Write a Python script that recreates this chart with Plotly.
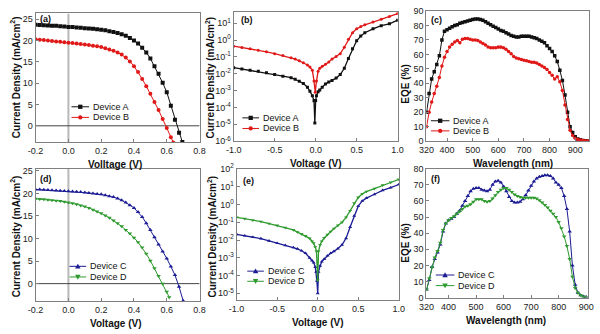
import plotly.graph_objects as go

# ---------------- data ----------------
# (a) J-V under illumination
va_A = [-0.2,-0.175,-0.15,-0.125,-0.1,-0.075,-0.05,-0.025,0,0.025,0.05,0.075,0.1,0.125,0.15,0.175,0.2,0.225,0.25,0.275,0.3,0.325,0.35,0.375,0.4,0.425,0.45,0.475,0.5,0.525,0.55,0.575,0.6,0.625,0.65,0.675,0.695]
ja_A = [23.7,23.65,23.6,23.55,23.5,23.45,23.35,23.3,23.2,23.15,23.05,23.0,22.9,22.85,22.75,22.65,22.55,22.4,22.2,22.0,21.8,21.5,21.1,20.6,20.0,19.3,18.3,17.2,15.8,14.0,12.2,10.1,7.9,4.7,1.4,-1.6,-3.8]
va_B = [-0.2,-0.175,-0.15,-0.125,-0.1,-0.075,-0.05,-0.025,0,0.025,0.05,0.075,0.1,0.125,0.15,0.175,0.2,0.225,0.25,0.275,0.3,0.325,0.35,0.375,0.4,0.425,0.45,0.475,0.5,0.525,0.55,0.575,0.6,0.625,0.64]
ja_B = [20.3,20.2,20.1,20.0,19.9,19.8,19.7,19.6,19.5,19.4,19.3,19.2,19.1,18.95,18.8,18.65,18.5,18.2,17.9,17.6,17.2,16.7,16.0,15.1,14.0,12.6,11.0,9.3,7.5,5.6,3.7,1.6,-0.5,-2.7,-3.9]

# (b) dark J-V (log)
vb_A = [-1.0,-0.9,-0.8,-0.7,-0.6,-0.5,-0.4,-0.3,-0.25,-0.2,-0.15,-0.1,-0.07,-0.04,-0.02,-0.01,0.0,0.01,0.03,0.05,0.08,0.12,0.16,0.2,0.25,0.3,0.35,0.4,0.45,0.5,0.55,0.6,0.7,0.8,0.9,1.0]
jb_A = [2.3e-2,1.9e-2,1.6e-2,1.4e-2,1.15e-2,9.0e-3,7.2e-3,5.8e-3,4.7e-3,3.6e-3,2.6e-3,1.6e-3,9.0e-4,5.0e-4,2.5e-4,1.2e-5,2.6e-4,5.0e-4,8.5e-4,1.1e-3,1.6e-3,2.5e-3,3.2e-3,4.0e-3,5.5e-3,9.0e-3,2.1e-2,8.0e-2,3.0e-1,9.0e-1,1.7,2.7,4.6,7.1,9.1,15.0]
vb_B = [-1.0,-0.9,-0.8,-0.7,-0.6,-0.5,-0.4,-0.3,-0.25,-0.2,-0.15,-0.1,-0.07,-0.04,-0.02,-0.005,0.01,0.03,0.05,0.08,0.12,0.16,0.2,0.25,0.3,0.35,0.4,0.45,0.5,0.55,0.6,0.7,0.8,0.9,1.0]
jb_B = [4.3e-1,3.6e-1,3.0e-1,2.5e-1,2.0e-1,1.55e-1,1.2e-1,9.0e-2,7.4e-2,5.8e-2,4.5e-2,3.3e-2,2.5e-2,1.6e-2,3.7e-3,8.0e-4,3.7e-3,1.4e-2,2.1e-2,2.8e-2,3.6e-2,4.9e-2,7.4e-2,1.05e-1,1.55e-1,3.7e-1,1.1,2.7,4.6,6.3,8.0,11.5,17.0,25.0,37.0]

# (c) EQE
wl_c = [320,330,340,350,360,370,380,390,400,410,420,430,440,450,460,470,480,490,500,510,520,530,540,550,560,570,580,590,600,610,620,630,640,650,660,670,680,690,700,710,720,730,740,750,760,770,780,790,800,810,820,830,840,850,860,870,880,890,900,910,920,930,940,950]
eqe_A = [20,33,43,48,53,59,70,76,77,78,79,80,80.5,81.5,82,82.5,83,83.5,84,84.5,84.5,84,83.5,82.5,81.5,80.5,79.5,78.5,77.5,76.5,76,75,74,73,72.5,72,72,72.5,72.5,72.5,72.5,72,71.5,71,70,69,68,66,64,62,59,55,49,42,32,20,10,6,3,1.5,1,0.5,0.3,0.2]
eqe_B = [10,20,27,33,38,44,52,58,62,65,67,68.5,69.5,68,70.5,71,71,70.5,70,70,69.5,68.5,67.5,66.5,65,64.5,64.5,64.5,65,65,64.5,63.5,62,60.5,58.5,57.5,57,56.5,56,55.5,55,54.5,54.5,54,53,52,51,49.5,47.5,45.5,43,44.5,41,35,25,15,7.5,4,2,1.2,0.8,0.5,0.3,0.2]

# (d) J-V under illumination
vd_C = [-0.2,-0.175,-0.15,-0.125,-0.1,-0.075,-0.05,-0.025,0,0.025,0.05,0.075,0.1,0.125,0.15,0.175,0.2,0.225,0.25,0.275,0.3,0.325,0.35,0.375,0.4,0.425,0.45,0.475,0.5,0.525,0.55,0.575,0.6,0.625,0.65,0.675,0.7]
jd_C = [20.9,20.85,20.8,20.75,20.7,20.65,20.6,20.55,20.5,20.45,20.4,20.3,20.2,20.1,20.0,19.9,19.8,19.6,19.4,19.2,18.9,18.5,18.0,17.4,16.8,15.9,14.8,13.4,11.9,10.3,8.7,7.1,5.6,3.8,1.9,-0.7,-3.8]
vd_D = [-0.2,-0.175,-0.15,-0.125,-0.1,-0.075,-0.05,-0.025,0,0.025,0.05,0.075,0.1,0.125,0.15,0.175,0.2,0.225,0.25,0.275,0.3,0.325,0.35,0.375,0.4,0.425,0.45,0.475,0.5,0.525,0.55,0.575,0.6,0.615]
jd_D = [18.8,18.75,18.7,18.6,18.5,18.4,18.3,18.15,18.0,17.8,17.6,17.35,17.1,16.8,16.4,16.0,15.6,15.1,14.6,14.0,13.4,12.7,11.9,11.1,10.2,9.2,8.0,6.6,5.1,3.4,1.7,0.0,-1.8,-3.0]

# (e) dark J-V (log)
ve_C = [-1.0,-0.9,-0.8,-0.7,-0.6,-0.5,-0.4,-0.3,-0.25,-0.2,-0.15,-0.1,-0.07,-0.05,-0.03,-0.02,-0.01,0.0,0.01,0.03,0.05,0.08,0.12,0.16,0.2,0.25,0.3,0.35,0.4,0.45,0.5,0.55,0.6,0.7,0.8,0.9,1.0]
je_C = [2.1e-2,1.75e-2,1.45e-2,1.2e-2,9.0e-3,6.6e-3,5.0e-3,3.8e-3,3.2e-3,2.5e-3,1.8e-3,1.0e-3,7.0e-4,5.4e-4,3.0e-4,1.6e-4,5.0e-5,1.0e-5,1.6e-4,3.5e-4,6.0e-4,8.5e-4,1.3e-3,1.8e-3,2.3e-3,3.3e-3,5.4e-3,1.25e-2,5.4e-2,2.3e-1,8.1e-1,1.6,2.3,3.8,6.3,8.9,13.5]
ve_D = [-1.0,-0.9,-0.8,-0.7,-0.6,-0.5,-0.4,-0.3,-0.25,-0.2,-0.15,-0.1,-0.07,-0.05,-0.03,-0.015,0.0,0.01,0.03,0.05,0.08,0.12,0.16,0.2,0.25,0.3,0.35,0.4,0.45,0.5,0.55,0.6,0.7,0.8,0.9,1.0]
je_D = [1.9e-1,1.6e-1,1.3e-1,1.1e-1,8.5e-2,6.6e-2,5.0e-2,3.7e-2,2.8e-2,2.2e-2,1.7e-2,1.25e-2,8.5e-3,6.6e-3,4.0e-3,2.3e-3,5.4e-5,2.3e-3,5.4e-3,8.5e-3,1.3e-2,2.0e-2,3.0e-2,4.4e-2,6.6e-2,1.0e-1,1.9e-1,4.4e-1,1.2,2.5,4.0,5.4,7.8,12.3,17.5,26.0]

# (f) EQE
wl_f = [320,330,340,350,360,370,380,390,400,410,420,430,440,450,460,470,480,490,500,510,520,530,540,550,560,570,580,590,600,610,620,630,640,650,660,670,680,690,700,710,720,730,740,750,760,770,780,790,800,810,820,830,840,850,860,870,880,890,900]
eqe_C = [5,11,19,24,28,33,41,46,48,49,50,52,54,57,60,63,66,67.5,68,68,67,66.5,66,67,70,72,72.5,71.5,69,66,62.5,60,59,59,59.5,61,63.5,66.5,69.5,72,74,75,75.5,76,76,75.5,74,71.5,70,68,63,55,41,20,8,3,1.5,0.8,0.5]
eqe_D = [5,12,19,25,29,34,42,46,48,49.5,50.5,52,53.5,55,56.5,57,58,59.5,61,61,61,60,59.5,60,61.5,63.5,65.5,67,68,68,67,65.5,64,63,62.5,62,62,62,62,62,61.5,60.5,59,57.5,56,54,52,50,47,43,38,32,24,13,6,3,1.5,0.8,0.5]

# ---------------- styling ----------------
FONT = "Arial, Liberation Sans, sans-serif"
BLACK = "#111111"
RED = "#e01818"
NAVY = "#1c1c94"
GREEN = "#2f9a2f"

fig = go.Figure()

def add(x, y, name, color, symbol, xa, ya, size=4, width=1):
    fig.add_trace(go.Scatter(
        x=x, y=y, name=name, mode="lines+markers", showlegend=False,
        line=dict(color=color, width=width),
        marker=dict(color=color, symbol=symbol, size=size),
        xaxis=xa, yaxis=ya))

add(va_A, ja_A, "Device A", BLACK, "square", "x", "y")
add(va_B, ja_B, "Device B", RED, "circle", "x", "y")
add(vb_A, jb_A, "Device A", BLACK, "square", "x2", "y2", size=3, width=1.3)
add(vb_B, jb_B, "Device B", RED, "circle", "x2", "y2", size=3, width=1.3)
add(wl_c, eqe_A, "Device A", BLACK, "square", "x3", "y3", size=3.5)
add(wl_c, eqe_B, "Device B", RED, "circle", "x3", "y3", size=3.5)
add(vd_C, jd_C, "Device C", NAVY, "triangle-up", "x4", "y4")
add(vd_D, jd_D, "Device D", GREEN, "triangle-down", "x4", "y4")
add(ve_C, je_C, "Device C", NAVY, "triangle-up", "x5", "y5", size=3.5, width=1.3)
add(ve_D, je_D, "Device D", GREEN, "triangle-down", "x5", "y5", size=3.5, width=1.3)
add(wl_f, eqe_C, "Device C", NAVY, "triangle-up", "x6", "y6", size=4)
add(wl_f, eqe_D, "Device D", GREEN, "triangle-down", "x6", "y6", size=4)

ax_common = dict(showgrid=False, zeroline=False, showline=True, mirror=True,
                 linecolor="#808080", linewidth=1, ticks="inside", ticklen=3,
                 tickcolor="#808080", tickfont=dict(family=FONT, size=9, color="#222"))

def xa(dom, rng, anchor, **kw):
    d = dict(ax_common); d.update(domain=dom, range=rng, anchor=anchor); d.update(kw); return d

log_vals_b = [1e-6,1e-5,1e-4,1e-3,1e-2,1e-1,1,10]
log_txt_b = ["10<sup>-6</sup>","10<sup>-5</sup>","10<sup>-4</sup>","10<sup>-3</sup>","10<sup>-2</sup>","10<sup>-1</sup>","10<sup>0</sup>","10<sup>1</sup>"]
log_vals_e = [1e-5,1e-4,1e-3,1e-2,1e-1,1,10,100]
log_txt_e = ["10<sup>-5</sup>","10<sup>-4</sup>","10<sup>-3</sup>","10<sup>-2</sup>","10<sup>-1</sup>","10<sup>0</sup>","10<sup>1</sup>","10<sup>2</sup>"]
jv_ticks = [-0.2,0,0.2,0.4,0.6,0.8]
jv_txt = ["-0.2","0.0","0.2","0.4","0.6","0.8"]
dk_ticks = [-1,-0.5,0,0.5,1]
dk_txt = ["-1.0","-0.5","0.0","0.5","1.0"]
wl_ticks = [320,400,500,600,700,800,900]

fig.update_layout(
    width=600, height=334, margin=dict(l=0, r=0, t=0, b=0),
    paper_bgcolor="white", plot_bgcolor="white", showlegend=False,
    font=dict(family=FONT, color="#111"),
    xaxis=xa([0.047, 0.327], [-0.2005, 0.8005], "y", tickvals=jv_ticks, ticktext=jv_txt),
    yaxis=xa([0.581, 0.980], [-3.78, 26.36], "x", tickvals=[0,5,10,15,20,25]),
    xaxis2=xa([0.385, 0.665], [-1.001, 1.001], "y2", tickvals=dk_ticks, ticktext=dk_txt),
    yaxis2=xa([0.583, 0.986], [-6.005, 1.69], "x2", type="log", tickvals=log_vals_b, ticktext=log_txt_b),
    xaxis3=xa([0.714, 0.992], [319.5, 955], "y3", tickvals=wl_ticks),
    yaxis3=xa([0.583, 0.988], [-0.05, 90.05], "x3", tickvals=list(range(0, 91, 10))),
    xaxis4=xa([0.047, 0.327], [-0.2005, 0.8005], "y4", tickvals=jv_ticks, ticktext=jv_txt),
    yaxis4=xa([0.087, 0.497], [-3.85, 25.43], "x4", tickvals=[0,5,10,15,20,25]),
    xaxis5=xa([0.39, 0.667], [-1.001, 1.001], "y5", tickvals=dk_ticks, ticktext=dk_txt),
    yaxis5=xa([0.089, 0.497], [-5.4, 2.005], "x5", type="log", tickvals=log_vals_e, ticktext=log_txt_e),
    xaxis6=xa([0.714, 0.989], [319.5, 905], "y6", tickvals=wl_ticks),
    yaxis6=xa([0.097, 0.498], [-0.05, 80.05], "x6", tickvals=list(range(0, 81, 10))),
)

# zero lines in J-V panels
for xr, yr, y0, y1 in [("x", "y", -3.78, 26.36), ("x4", "y4", -3.85, 25.43)]:
    fig.add_shape(type="line", xref=xr, yref=yr, x0=0, x1=0, y0=y0, y1=y1,
                  line=dict(color="#b8b8b8", width=2), layer="below")
    fig.add_shape(type="line", xref=xr, yref=yr, x0=-0.2, x1=0.8, y0=0, y1=0,
                  line=dict(color="#444", width=1), layer="below")

def PX(x): return x / 600
def PY(y): return 1 - y / 334

def ann(text, px, py, size=10, angle=0, bold=True, anchor="center"):
    fig.add_annotation(text=("<b>%s</b>" % text) if bold else text, xref="paper", yref="paper",
                       x=PX(px), y=PY(py), showarrow=False, textangle=angle,
                       xanchor=anchor, yanchor="middle",
                       font=dict(family=FONT, size=size, color="#111"))

# ---- hand-drawn legends (line sample + marker glyph + text) ----
def marker_shape(sym, cx, cy, color, r=2.2):
    if sym == "square":
        fig.add_shape(type="rect", xref="paper", yref="paper", x0=PX(cx - r), x1=PX(cx + r),
                      y0=PY(cy + r), y1=PY(cy - r), line=dict(width=0), fillcolor=color)
    elif sym == "circle":
        fig.add_shape(type="circle", xref="paper", yref="paper", x0=PX(cx - r), x1=PX(cx + r),
                      y0=PY(cy + r), y1=PY(cy - r), line=dict(width=0), fillcolor=color)
    else:
        s = 1 if sym == "triangle-up" else -1
        r2 = r + 0.6
        path = "M %f %f L %f %f L %f %f Z" % (PX(cx), PY(cy - s * r2), PX(cx - r2), PY(cy + s * r2 * 0.8),
                                             PX(cx + r2), PY(cy + s * r2 * 0.8))
        fig.add_shape(type="path", xref="paper", yref="paper", path=path,
                      line=dict(width=0), fillcolor=color)

def legend(entries, x0, x1, rows):
    for (name, color, sym), ry in zip(entries, rows):
        fig.add_shape(type="line", xref="paper", yref="paper", x0=PX(x0), x1=PX(x1),
                      y0=PY(ry), y1=PY(ry), line=dict(color=color, width=1))
        marker_shape(sym, (x0 + x1) / 2, ry, color)
        ann(name, x1 + 2, ry, size=9, bold=False, anchor="left")

AB = [("Device A", BLACK, "square"), ("Device B", RED, "circle")]
CD = [("Device C", NAVY, "triangle-up"), ("Device D", GREEN, "triangle-down")]
legend(AB, 65, 83, [103.5, 114.5])
legend(AB, 240, 257, [115, 126])
legend(AB, 433, 452, [118, 128.5])
legend(CD, 63, 80, [269, 280])
legend(CD, 245, 262, [274, 284.5])
legend(CD, 438, 457, [278, 289])

# panel labels
for t, px, py in [("(a)", 31, 12), ("(b)", 237, 13), ("(c)", 431, 13),
                  ("(d)", 31, 178), ("(e)", 239, 180), ("(f)", 431, 178)]:
    ann(t, px, py, size=9, anchor="left")

# axis titles
ytitle = "Current Density (mA/cm<sup>2</sup>)"
ann(ytitle, 8, 73, size=10, angle=-90)
ann(ytitle, 207, 73, size=10, angle=-90)
ann("EQE (%)", 407, 80, size=10, angle=-90)
ann(ytitle, 8, 238, size=10, angle=-90)
ann(ytitle, 209, 238, size=10, angle=-90)
ann("EQE (%)", 407, 245, size=10, angle=-90)
ann("Volltage (V)", 110, 163, size=10)
ann("Voltage (V)", 315, 162, size=10)
ann("Wavelength (nm)", 517, 162, size=10)
ann("Voltage (V)", 110, 328, size=10)
ann("Voltage (V)", 317, 327, size=10)
ann("Wavelength (nm)", 510, 325, size=10)

fig.write_html("out.html")
